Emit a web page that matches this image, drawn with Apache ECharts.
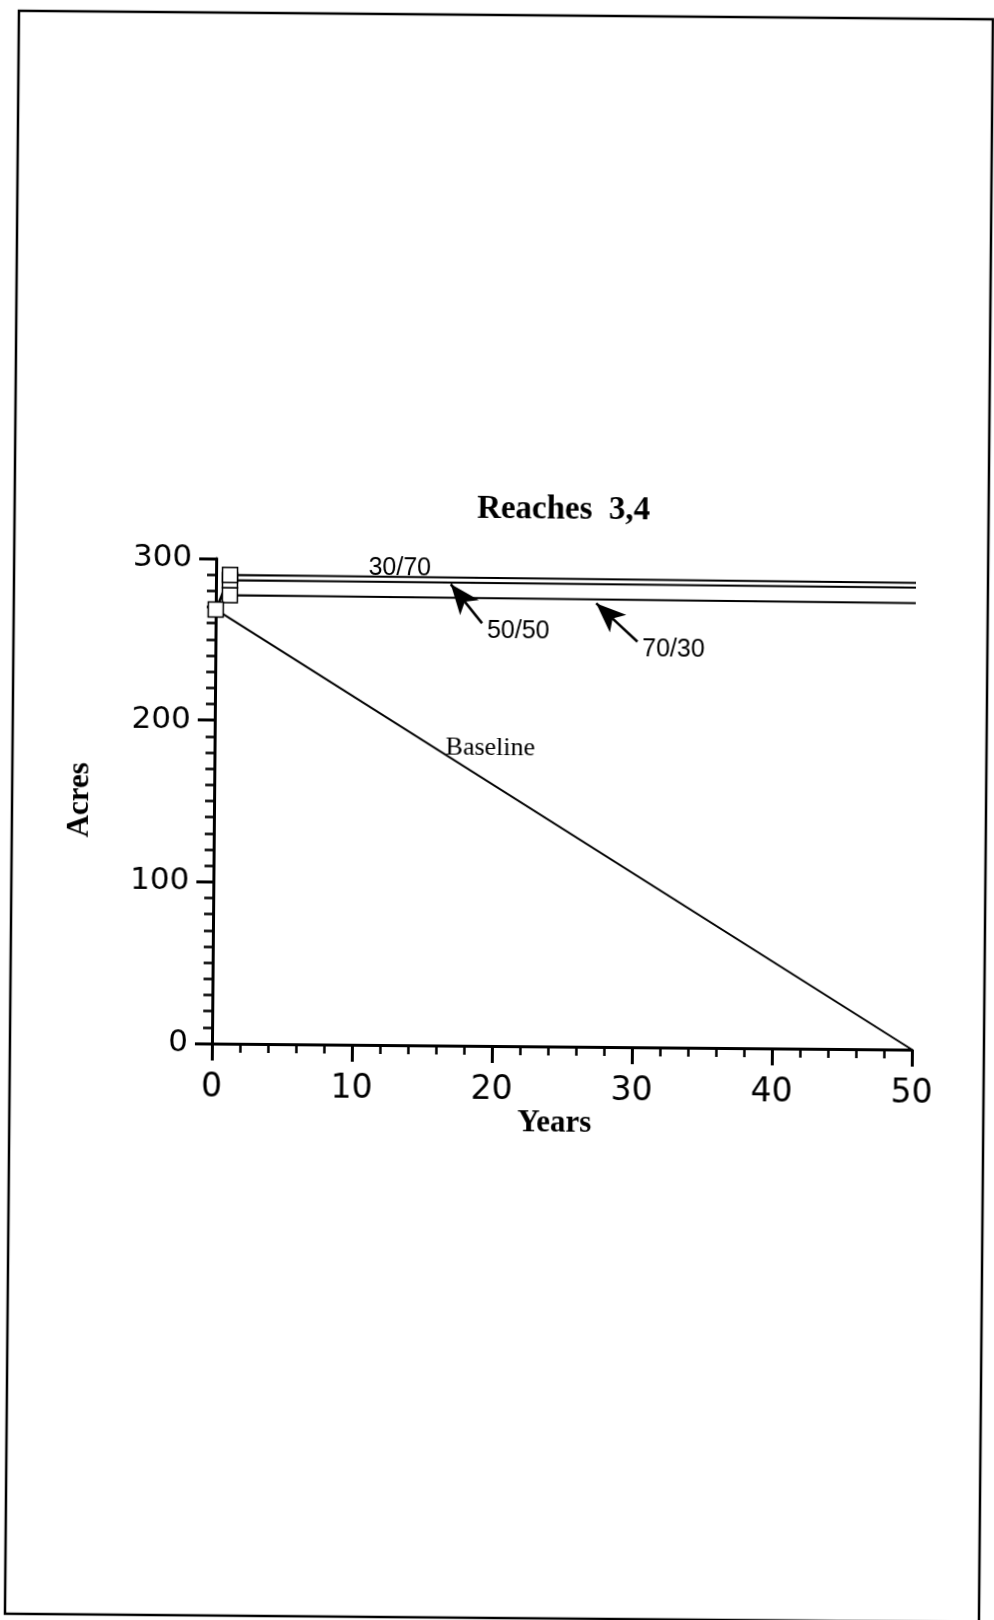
<!DOCTYPE html>
<html>
<head>
<meta charset="utf-8">
<script src="https://cdn.jsdelivr.net/npm/echarts@6/dist/echarts.min.js"></script>
<style>
html, body { margin: 0; padding: 0; background: #fff; overflow: hidden; }
#main { width: 994px; height: 1620px; transform: rotate(0.5deg); transform-origin: 497px 810px; }
</style>
</head>
<body>
<div id="main"></div>
<script>
// ---- data ----
const chartTitle = 'Reaches  3,4';
const xAxisName = 'Years';
const yAxisName = 'Acres';
const xTicks = [0, 10, 20, 30, 40, 50];
const yTicks = [0, 100, 200, 300];

const baselineYears = [0, 50];
const baselineAcres = [268.5, 0];

const scenarioYears = [0, 1, 50];
const acres3070 = [268.5, 290, 288.7];
const acres5050 = [268.5, 286.7, 285.7];
const acres7030 = [268.5, 277.5, 276.2];

// index of the point that carries a square marker
const baselineMarked = 0;
const scenarioMarked = 1;

// ---- build series data ----
function pts(xs, ys, marked) {
  return xs.map((x, i) => i === marked
    ? { value: [x, ys[i]], symbol: 'rect', symbolSize: 15 }
    : { value: [x, ys[i]], symbol: 'none' });
}

const sansLabel = { fontFamily: 'Liberation Sans', fontSize: 25, color: '#000' };
function textPoint(name, coord, style) {
  return {
    symbol: 'circle', symbolSize: 1, itemStyle: { color: 'rgba(0,0,0,0)' },
    data: [{ name: name, coord: coord }],
    label: Object.assign({ show: true, position: 'inside', formatter: '{b}' }, style)
  };
}
function arrow(from, to) {
  return {
    silent: true, symbol: ['none', 'arrow'], symbolSize: [18, 30],
    label: { show: false },
    lineStyle: { color: '#000', width: 2.5, type: 'solid' },
    data: [[{ coord: from }, { coord: to }]]
  };
}

const lineBase = {
  type: 'line', showSymbol: true, symbol: 'none', animation: false,
  lineStyle: { color: '#000', width: 2 },
  itemStyle: { color: '#fff', borderColor: '#000', borderWidth: 1.5 },
  emphasis: { disabled: true }
};

const chart = echarts.init(document.getElementById('main'), null, { renderer: 'canvas' });
chart.setOption({
  backgroundColor: '#fff',
  animation: false,
  title: {
    text: chartTitle, left: 561, top: 493, textAlign: 'center', padding: 0,
    textStyle: { fontFamily: 'Liberation Serif', fontWeight: 'bold', fontSize: 33, color: '#000' }
  },
  graphic: [{
    type: 'rect', shape: { x: 12, y: 15, width: 974, height: 1603 },
    style: { fill: 'none', stroke: '#000', lineWidth: 2.5 }, silent: true
  }],
  grid: { left: 214, right: 80, top: 561, bottom: 574, containLabel: false, outerBoundsMode: 'none' },
  xAxis: {
    type: 'value', min: xTicks[0], max: xTicks[xTicks.length - 1], interval: 10,
    name: xAxisName, nameLocation: 'middle', nameGap: 59,
    nameTextStyle: { fontFamily: 'Liberation Serif', fontWeight: 'bold', fontSize: 31, color: '#000', padding: [0, 14, 0, 0] },
    axisLine: { show: true, onZero: false, lineStyle: { color: '#000', width: 3 } },
    axisTick: { show: true, length: 17, lineStyle: { color: '#000', width: 3 } },
    minorTick: { show: true, splitNumber: 5, length: 9, lineStyle: { color: '#000', width: 2.5 } },
    splitLine: { show: false },
    axisLabel: { margin: 28, fontFamily: 'DejaVu Sans', fontSize: 33, color: '#000' }
  },
  yAxis: {
    type: 'value', min: yTicks[0], max: yTicks[yTicks.length - 1], interval: 100,
    name: yAxisName, nameLocation: 'middle', nameRotate: 90, nameGap: 119,
    nameTextStyle: { fontFamily: 'Liberation Serif', fontWeight: 'bold', fontSize: 31, color: '#000' },
    axisLine: { show: true, onZero: false, lineStyle: { color: '#000', width: 3 } },
    axisTick: { show: true, length: 17, lineStyle: { color: '#000', width: 3 } },
    minorTick: { show: true, splitNumber: 10, length: 9, lineStyle: { color: '#000', width: 2.5 } },
    splitLine: { show: false },
    axisLabel: { margin: 24, fontFamily: 'DejaVu Sans', fontSize: 31, color: '#000' }
  },
  series: [
    Object.assign({}, lineBase, {
      name: '70/30', z: 2,
      data: pts(scenarioYears, acres7030, scenarioMarked),
      markPoint: textPoint('70/30', [32.72, 246.2], sansLabel),
      markLine: arrow([30.14, 250.8], [27.17, 274.4])
    }),
    Object.assign({}, lineBase, {
      name: '50/50', z: 2,
      data: pts(scenarioYears, acres5050, scenarioMarked),
      markPoint: textPoint('50/50', [21.62, 256.9], sansLabel),
      markLine: arrow([19.03, 261.4], [16.77, 285.4])
    }),
    Object.assign({}, lineBase, {
      name: '30/70', z: 2,
      data: pts(scenarioYears, acres3070, scenarioMarked),
      markPoint: textPoint('30/70', [13.12, 294.8], sansLabel)
    }),
    Object.assign({}, lineBase, {
      name: 'Baseline', z: 3,
      data: pts(baselineYears, baselineAcres, baselineMarked),
      markPoint: textPoint('Baseline', [19.7, 184.1], { fontFamily: 'Liberation Serif', fontSize: 26, color: '#000' })
    })
  ]
});
</script>
</body>
</html>
